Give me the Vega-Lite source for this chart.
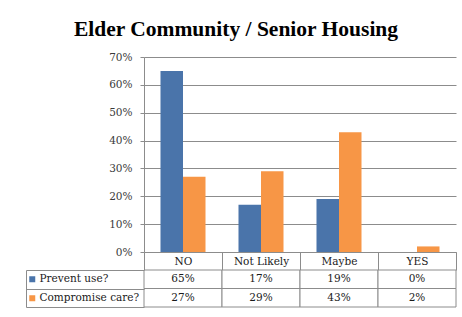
{
  "$schema": "https://vega.github.io/schema/vega-lite/v6.json",
  "padding": {"left": 25, "top": 18, "right": 7, "bottom": 8},
  "background": "white",
  "title": {"text": "Elder Community / Senior Housing", "font": "Liberation Serif", "fontSize": 21.5, "fontWeight": "bold", "color": "#000000", "anchor": "middle", "offset": 12, "dx": -5},
  "datasets": {
    "survey": [
      {"answer": "NO", "series": "Prevent use?", "share": 0.65},
      {"answer": "NO", "series": "Compromise care?", "share": 0.27},
      {"answer": "Not Likely", "series": "Prevent use?", "share": 0.17},
      {"answer": "Not Likely", "series": "Compromise care?", "share": 0.29},
      {"answer": "Maybe", "series": "Prevent use?", "share": 0.19},
      {"answer": "Maybe", "series": "Compromise care?", "share": 0.43},
      {"answer": "YES", "series": "Prevent use?", "share": 0.0},
      {"answer": "YES", "series": "Compromise care?", "share": 0.02}
    ]
  },
  "data": {"name": "survey"},
  "bounds": "flush",
  "spacing": 18,
  "config": {
    "view": {"stroke": null},
    "legend": {"labelFont": "DejaVu Serif", "labelFontSize": 10.5, "labelColor": "#1a1a1a"}
  },
  "vconcat": [
    {
      "width": 312,
      "height": 195,
      "mark": {"type": "bar"},
      "encoding": {
        "x": {
          "field": "answer", "type": "nominal",
          "sort": ["NO", "Not Likely", "Maybe", "YES"],
          "scale": {"paddingInner": 0, "paddingOuter": 0},
          "axis": {
            "title": null, "domain": true, "domainColor": "#8c8c8c",
            "ticks": true, "tickBand": "extent", "tickSize": 18, "tickColor": "#8c8c8c",
            "labelAngle": 0, "labelFont": "DejaVu Serif", "labelFontSize": 10.5, "labelColor": "#1a1a1a",
            "labelBaseline": "middle", "labelPadding": -9, "grid": false
          }
        },
        "xOffset": {
          "field": "series", "type": "nominal",
          "sort": ["Prevent use?", "Compromise care?"],
          "scale": {"paddingInner": 0, "paddingOuter": 0.733}
        },
        "y": {
          "field": "share", "type": "quantitative",
          "scale": {"domain": [0, 0.7]},
          "axis": {
            "title": null, "values": [0, 0.1, 0.2, 0.3, 0.4, 0.5, 0.6, 0.7], "format": ".0%",
            "grid": true, "gridColor": "#8c8c8c", "domainColor": "#8c8c8c", "tickColor": "#8c8c8c",
            "tickSize": 4, "labelPadding": 8, "labelFont": "DejaVu Serif", "labelFontSize": 10.5, "labelColor": "#3a3a3a"
          }
        },
        "color": {
          "field": "series", "type": "nominal",
          "scale": {"domain": ["Prevent use?", "Compromise care?"], "range": ["#4A74AA", "#F79646"]},
          "legend": {
            "orient": "none", "legendX": -117, "legendY": 217, "direction": "vertical", "title": null,
            "symbolType": "square", "symbolSize": 36, "symbolStrokeWidth": 0, "padding": 0,
            "labelFont": "DejaVu Serif", "labelFontSize": 10.5, "labelColor": "#1a1a1a", "labelOffset": 2, "rowPadding": 8
          }
        }
      }
    },
    {
      "width": 312,
      "height": 37,
      "encoding": {
        "x": {"field": "answer", "type": "nominal", "sort": ["NO", "Not Likely", "Maybe", "YES"], "scale": {"paddingInner": 0, "paddingOuter": 0}, "axis": null},
        "y": {
          "field": "series", "type": "nominal", "sort": ["Prevent use?", "Compromise care?"],
          "scale": {"paddingInner": 0, "paddingOuter": 0},
          "axis": {
            "orient": "left", "offset": 118, "title": null, "labels": false, "grid": false,
            "domain": true, "domainColor": "#8c8c8c", "ticks": true, "tickBand": "extent", "tickSize": -118, "tickColor": "#8c8c8c"
          }
        }
      },
      "layer": [
        {"mark": {"type": "rect", "fill": "white", "stroke": "#8c8c8c", "strokeWidth": 1}},
        {"mark": {"type": "text", "font": "DejaVu Serif", "fontSize": 10.5, "color": "#1a1a1a"}, "encoding": {"text": {"field": "share", "type": "quantitative", "format": ".0%"}}}
      ]
    }
  ]
}
